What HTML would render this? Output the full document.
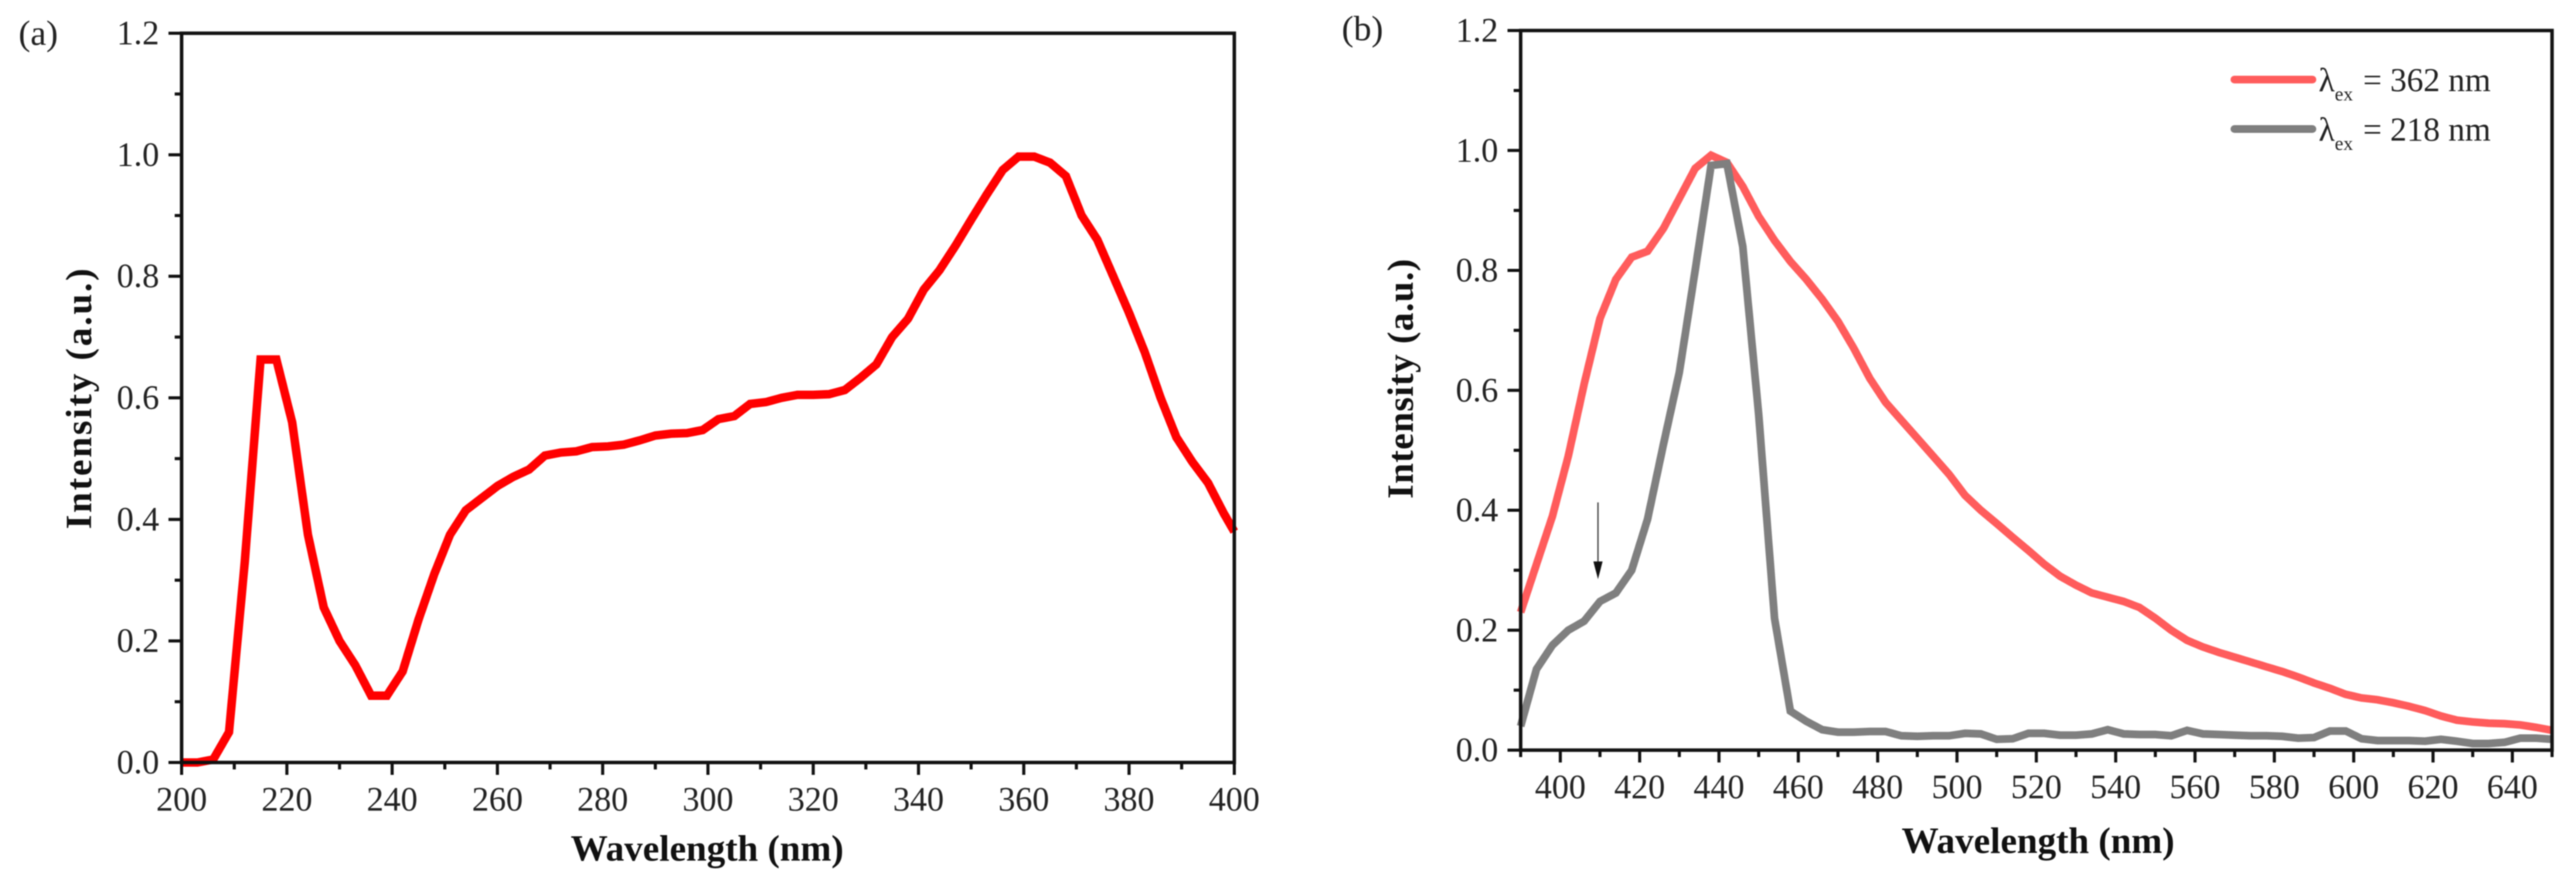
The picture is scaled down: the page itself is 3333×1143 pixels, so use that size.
<!DOCTYPE html>
<html>
<head>
<meta charset="utf-8">
<style>
html,body{margin:0;padding:0;background:#fff;}
svg{display:block;filter:blur(0.8px);}
text{font-family:"Liberation Serif",serif;fill:#222;}
.tt{font-weight:bold;fill:#111;font-size:48px;}
</style>
</head>
<body>
<svg id="chart" xmlns="http://www.w3.org/2000/svg" width="3333" height="1143" viewBox="0 0 3333 1143"></svg>
<script>
const excitationWavelengths = [200,203,206,209,212,215,218,221,224,227,230,233,236,239,242,245,248,251,254,257,260,263,266,269,272,275,278,281,284,287,290,293,296,299,302,305,308,311,314,317,320,323,326,329,332,335,338,341,344,347,350,353,356,359,362,365,368,371,374,377,380,383,386,389,392,395,398,400];
const excitationIntensity = [0,0,0.005,0.05,0.33,0.663,0.663,0.56,0.375,0.255,0.2,0.16,0.11,0.11,0.15,0.235,0.31,0.375,0.415,0.435,0.455,0.47,0.482,0.505,0.51,0.512,0.519,0.52,0.523,0.53,0.538,0.541,0.542,0.547,0.565,0.57,0.59,0.593,0.6,0.605,0.605,0.606,0.613,0.633,0.655,0.7,0.73,0.778,0.81,0.85,0.893,0.935,0.975,0.997,0.997,0.987,0.965,0.9,0.86,0.8,0.74,0.675,0.6,0.535,0.495,0.46,0.41,0.38];
const emissionWavelengths = [390,394,398,402,406,410,414,418,422,426,430,434,438,442,446,450,454,458,462,466,470,474,478,482,486,490,494,498,502,506,510,514,518,522,526,530,534,538,542,546,550,554,558,562,566,570,574,578,582,586,590,594,598,602,606,610,614,618,622,626,630,634,638,642,646,650];
const emission362 = [0.23,0.31,0.39,0.49,0.61,0.72,0.785,0.822,0.832,0.87,0.92,0.97,0.992,0.98,0.94,0.89,0.85,0.815,0.785,0.752,0.715,0.67,0.62,0.58,0.55,0.52,0.49,0.46,0.425,0.4,0.378,0.355,0.333,0.31,0.29,0.275,0.262,0.255,0.248,0.238,0.22,0.2,0.183,0.172,0.163,0.155,0.147,0.139,0.131,0.122,0.112,0.103,0.093,0.087,0.084,0.079,0.073,0.066,0.057,0.05,0.047,0.045,0.044,0.042,0.038,0.033];
const emission218 = [0.04,0.135,0.175,0.2,0.215,0.248,0.262,0.3,0.385,0.51,0.63,0.8,0.975,0.978,0.84,0.56,0.22,0.065,0.048,0.034,0.03,0.03,0.031,0.031,0.024,0.023,0.024,0.024,0.028,0.027,0.018,0.019,0.028,0.028,0.025,0.025,0.027,0.034,0.027,0.026,0.026,0.024,0.033,0.027,0.026,0.025,0.024,0.024,0.023,0.02,0.021,0.032,0.032,0.019,0.016,0.016,0.016,0.015,0.018,0.015,0.011,0.011,0.013,0.02,0.02,0.018];
const yTickLabels = ["0.0","0.2","0.4","0.6","0.8","1.0","1.2"];
const yMinorValues = [0.1,0.3,0.5,0.7,0.9,1.1];
const xTicksA = [200,220,240,260,280,300,320,340,360,380,400];
const xMinorA = [210,230,250,270,290,310,330,350,370,390];
const xTicksB = [400,420,440,460,480,500,520,540,560,580,600,620,640];
const xMinorB = [390,410,430,450,470,490,510,530,550,570,590,610,630,650];
const arrowWavelength = 409.5;
const arrowFrom = 0.413;
const arrowTo = 0.285;

const NS = 'http://www.w3.org/2000/svg';
const svg = document.getElementById('chart');

function make(tag, attrs, parent, text) {
  const el = document.createElementNS(NS, tag);
  for (const k in attrs) el.setAttribute(k, attrs[k]);
  if (text !== undefined) el.textContent = text;
  (parent || svg).appendChild(el);
  return el;
}

function drawPanel(p) {
  const g = make('g', {});
  
  
  const sx = v => p.left + (v - p.xMin) / (p.xMax - p.xMin) * (p.right - p.left);
  const sy = v => p.bottom - v / 1.2 * (p.bottom - p.top);

  const lines = make('g', {}, g);
  
  
  p.series.forEach(s => {
    const pts = s.y.map((v, i) => sx(p.x[i]).toFixed(1) + ',' + sy(v).toFixed(1)).join(' ');
    const line = make('polyline', {points: pts, fill: 'none', stroke: s.color, 'stroke-width': s.width, 'stroke-linejoin': 'miter', 'stroke-miterlimit': 3}, lines);
    
    
  });

  const frame = make('rect', {x: p.left, y: p.top, width: p.right - p.left, height: p.bottom - p.top, fill: 'none', stroke: '#111', 'stroke-width': 4.5}, g);
  
  

  const xAxis = make('g', {}, g);
  
  
  p.xTicks.forEach(v => {
    make('line', {x1: sx(v), x2: sx(v), y1: p.bottom, y2: p.bottom + 16, stroke: '#111', 'stroke-width': 4}, xAxis);
    const t = make('text', {x: sx(v), y: p.bottom + 62, 'text-anchor': 'middle', 'font-size': 44}, xAxis, String(v));
    
    
  });
  p.xMinor.forEach(v => {
    make('line', {x1: sx(v), x2: sx(v), y1: p.bottom, y2: p.bottom + 9, stroke: '#111', 'stroke-width': 4}, xAxis);
  });

  const yAxis = make('g', {}, g);
  
  
  yTickLabels.forEach(label => {
    const v = parseFloat(label);
    make('line', {x1: p.left - 17, x2: p.left, y1: sy(v), y2: sy(v), stroke: '#111', 'stroke-width': 4}, yAxis);
    const t = make('text', {x: p.left - 29, y: sy(v) + 14, 'text-anchor': 'end', 'font-size': 44}, yAxis, label);
    
    
  });
  yMinorValues.forEach(v => {
    make('line', {x1: p.left - 9, x2: p.left, y1: sy(v), y2: sy(v), stroke: '#111', 'stroke-width': 4}, yAxis);
  });

  const xt = make('text', {x: p.xTitleX, y: p.xTitleY, 'text-anchor': 'middle', class: 'tt'}, g, 'Wavelength (nm)');
  
  
  const yt = make('text', {x: 0, y: 0, 'text-anchor': 'middle', class: 'tt', transform: 'translate(' + p.yTitleX + ',' + p.yTitleY + ') rotate(-90)', 'letter-spacing': p.yTitleSpacing}, g, 'Intensity (a.u.)');
  
  
  const pl = make('text', {x: p.labelX, y: p.labelY, 'font-size': 46}, g, p.label);
  
  
  return {sx, sy, g};
}

drawPanel({
  name: 'panel-a', left: 235, right: 1597, top: 43, bottom: 987,
  xMin: 200, xMax: 400, x: excitationWavelengths,
  series: [{name: 'excitation-line', y: excitationIntensity, color: '#ff0000', width: 11}],
  xTicks: xTicksA, xMinor: xMinorA,
  xTitleX: 915, xTitleY: 1114, yTitleX: 118, yTitleY: 515, yTitleSpacing: 2.5,
  label: '(a)', labelX: 24, labelY: 58
});

const b = drawPanel({
  name: 'panel-b', left: 1967.5, right: 3302, top: 39.5, bottom: 971,
  xMin: 390, xMax: 650, x: emissionWavelengths,
  series: [
    {name: 'emission-362-line', y: emission362, color: '#ff5c5c', width: 10},
    {name: 'emission-218-line', y: emission218, color: '#7f7f7f', width: 10}
  ],
  xTicks: xTicksB, xMinor: xMinorB,
  xTitleX: 2637, xTitleY: 1104, yTitleX: 1828, yTitleY: 490, yTitleSpacing: 0.7,
  label: '(b)', labelX: 1736, labelY: 52
});

const arrow = make('g', {}, b.g);


const ax = b.sx(arrowWavelength);
const ay1 = b.sy(arrowFrom);
const ay2 = b.sy(arrowTo);
make('line', {x1: ax, x2: ax, y1: ay1, y2: ay2 - 20, stroke: '#555', 'stroke-width': 2}, arrow);
make('polygon', {points: (ax - 6) + ',' + (ay2 - 23) + ' ' + (ax + 6) + ',' + (ay2 - 23) + ' ' + ax + ',' + ay2, fill: '#111'}, arrow);

function legendEntry(y, color, wl, name) {
  const g = make('g', {}, svg);
  
  
  make('line', {x1: 2891, x2: 2992, y1: y, y2: y, stroke: color, 'stroke-width': 10, 'stroke-linecap': 'round'}, g);
  const t = make('text', {x: 3000, y: y + 15, 'font-size': 43}, g);
  make('tspan', {}, t, '\u03bb');
  make('tspan', {dy: 12, 'font-size': 25}, t, 'ex');
  make('tspan', {dy: -12, dx: 13}, t, '= ' + wl + ' nm');
}
legendEntry(103, '#ff5c5c', '362', 'legend-entry-362');
legendEntry(167, '#7f7f7f', '218', 'legend-entry-218');
</script>
</body>
</html>
